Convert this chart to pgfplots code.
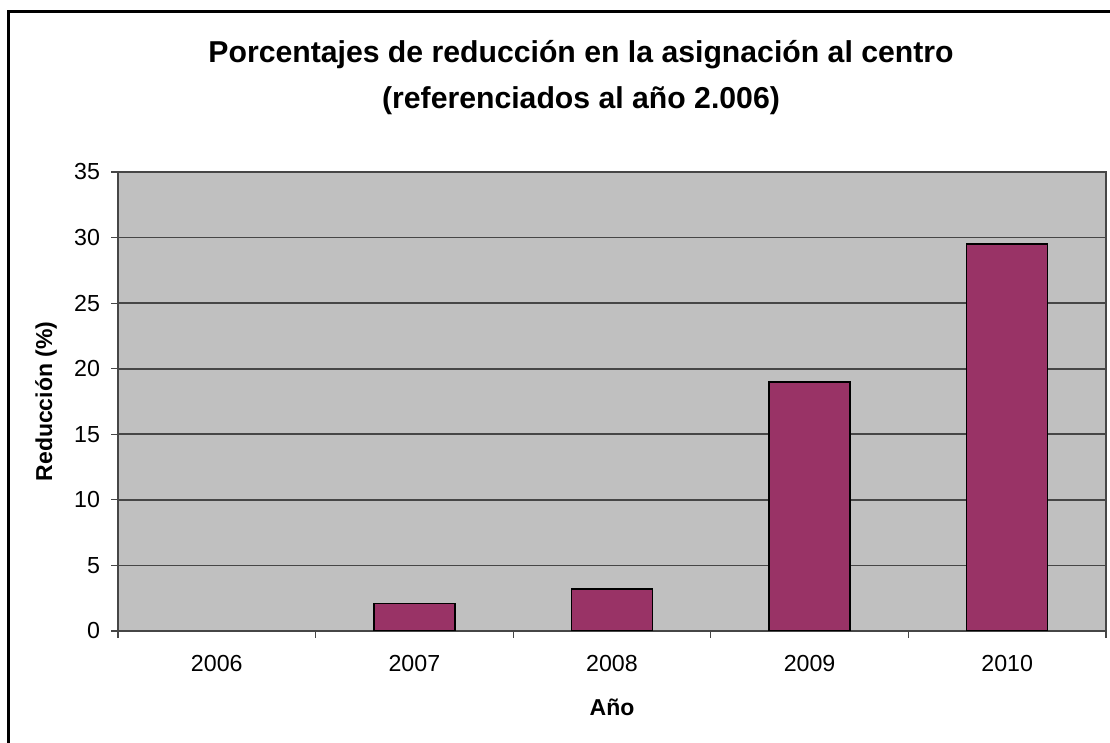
\documentclass[border=0pt]{standalone}
\usepackage{pgfplots}
\pgfplotsset{compat=1.18}
\usepackage{fontspec}
\setmainfont{Liberation Sans}
\definecolor{barc}{RGB}{153,51,102}
\definecolor{plotbg}{RGB}{192,192,192}
\definecolor{gridc}{RGB}{70,70,70}
\begin{document}
\begin{tikzpicture}[x=0.5pt,y=0.5pt]
\path[use as bounding box] (0,0) rectangle (1110,743);
\draw[line width=1.5pt] (8.5,-5) -- (8.5,731) -- (1115,731);
\node[font=\bfseries\fontsize{15.1}{18}\selectfont] at (581,688) {Porcentajes de reducción en la asignación al centro};
\node[font=\bfseries\fontsize{15.1}{18}\selectfont] at (581,642) {(referenciados al año 2.006)};
\begin{axis}[at={(59pt,56pt)}, anchor=south west, scale only axis,
  width=494pt, height=229.5pt,
  xmin=-0.5, xmax=4.5, ymin=0, ymax=35, ytick={0,5,...,35},
  xtick={0,...,4}, xticklabels={2006,2007,2008,2009,2010},
  minor xtick={-0.5,0.5,...,4.5},
  xtick pos=bottom, ytick pos=left,
  major x tick style={draw=none},
  tick align=outside, major tick length=3.5pt, minor tick length=3.5pt,
  tick style={gridc, line width=0.6pt},
  ymajorgrids, grid style={gridc, line width=0.8pt},
  axis background/.style={fill=plotbg},
  axis line style={draw=gridc, line width=0.8pt},
  ticklabel style={font=\fontsize{11.6}{13}\selectfont},
  xticklabel style={yshift=-5pt},
  yticklabel style={xshift=-2pt},
  /pgf/number format/assume math mode=true,
  xlabel={Año}, ylabel={Reducción (\%)},
  every axis x label/.style={at={(axis description cs:0.5,0)}, anchor=center, yshift=-38pt, font=\bfseries\fontsize{11.5}{14}\selectfont},
  every axis y label/.style={at={(axis description cs:0,0.5)}, xshift=-36pt, rotate=90, anchor=center, font=\bfseries\fontsize{11.5}{14}\selectfont},
  ybar, bar width=40.5pt, bar shift=0pt,
]
\addplot[draw=none, fill=none, forget plot] coordinates {(0,0)};
\addplot[fill=barc, draw=black, line width=0.8pt] coordinates {(1,2.1) (2,3.2) (3,19) (4,29.5)};
\end{axis}
\end{tikzpicture}
\end{document}
